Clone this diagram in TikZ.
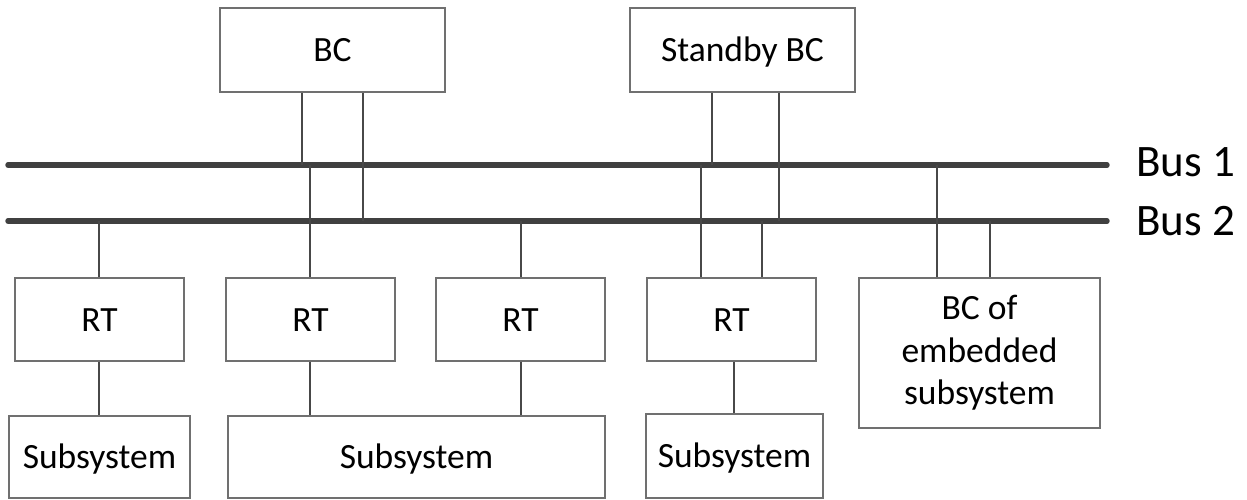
\documentclass[tikz,border=0pt]{standalone}
\usepackage{fontspec}
\setmainfont{Carlito}
\begin{document}
\begin{tikzpicture}[x=1pt,y=-1pt,
  unitbox/.style={draw=boxline, line width=1.3pt, fill=white, inner sep=0pt,
    font=\fontsize{35.5}{42.5}\selectfont, align=center},
  oneline/.style={unitbox, text height=25pt, text depth=2pt},
  busline/.style={draw=busgray, line width=5.4pt, line cap=round},
  tap/.style={draw=wiregray, line width=2pt},
  buslabel/.style={anchor=base west, inner sep=0pt, font=\fontsize{45}{52}\selectfont}]
\definecolor{busgray}{HTML}{404040}
\definecolor{wiregray}{HTML}{484848}
\definecolor{boxline}{HTML}{707070}
\useasboundingbox (0,0) rectangle (1247,499);

% bus lines
\coordinate (b1w) at (8,165);   \coordinate (b1e) at (1107,165);
\coordinate (b2w) at (8,221);   \coordinate (b2e) at (1107,221);
\draw[busline] (b1w) -- (b1e);
\draw[busline] (b2w) -- (b2e);
\node[buslabel] (lbus1) at (1136,176) {Bus 1};
\node[buslabel] (lbus2) at (1136,235) {Bus 2};

% controllers
\node[oneline, minimum width=225, minimum height=84] (bc)  at (332.5,50) {BC};
\node[oneline, minimum width=225, minimum height=84] (sbc) at (742.5,50) {Standby BC};

% remote terminals
\node[oneline, minimum width=169, minimum height=83] (rt1) at (99.5,319.5) {RT};
\node[oneline, minimum width=169, minimum height=83] (rt2) at (310.5,319.5) {RT};
\node[oneline, minimum width=169, minimum height=83] (rt3) at (520.5,319.5) {RT};
\node[oneline, minimum width=169, minimum height=83] (rt4) at (731.5,319.5) {RT};
\node[unitbox, minimum width=241, minimum height=150] (emb) at (979.5,353)
  {BC of\\embedded\\subsystem};

% subsystems
\node[oneline, minimum width=181, minimum height=82] (sub1) at (99.5,457) {Subsystem};
\node[oneline, minimum width=377, minimum height=82] (sub2) at (416.5,457) {Subsystem};
\node[oneline, minimum width=177, minimum height=84] (sub3) at (734.5,456) {Subsystem};

% tap positions along the buses
\coordinate (tbc1) at (302,0);  \coordinate (tbc2) at (363,0);
\coordinate (tsb1) at (712,0);  \coordinate (tsb2) at (779,0);
\coordinate (trt1) at (99,0);
\coordinate (trt2) at (310,0);
\coordinate (trt3) at (521,0);
\coordinate (trt4a) at (701,0); \coordinate (trt4b) at (762,0); \coordinate (trt4s) at (734,0);
\coordinate (temb1) at (937,0); \coordinate (temb2) at (990,0);

% bus controller stubs
\draw[tap] (tbc1 |- bc.south) -- (tbc1 |- b1w);
\draw[tap] (tbc2 |- bc.south) -- (tbc2 |- b2w);
\draw[tap] (tsb1 |- sbc.south) -- (tsb1 |- b1w);
\draw[tap] (tsb2 |- sbc.south) -- (tsb2 |- b2w);

% terminal stubs
\draw[tap] (trt1 |- b2w) -- (trt1 |- rt1.north);
\draw[tap] (trt2 |- b1w) -- (trt2 |- rt2.north);
\draw[tap] (trt3 |- b2w) -- (trt3 |- rt3.north);
\draw[tap] (trt4a |- b1w) -- (trt4a |- rt4.north);
\draw[tap] (trt4b |- b2w) -- (trt4b |- rt4.north);
\draw[tap] (temb1 |- b1w) -- (temb1 |- emb.north);
\draw[tap] (temb2 |- b2w) -- (temb2 |- emb.north);

% terminal to subsystem links
\draw[tap] (trt1 |- rt1.south) -- (trt1 |- sub1.north);
\draw[tap] (trt2 |- rt2.south) -- (trt2 |- sub2.north);
\draw[tap] (trt3 |- rt3.south) -- (trt3 |- sub2.north);
\draw[tap] (trt4s |- rt4.south) -- (trt4s |- sub3.north);
\end{tikzpicture}
\end{document}
